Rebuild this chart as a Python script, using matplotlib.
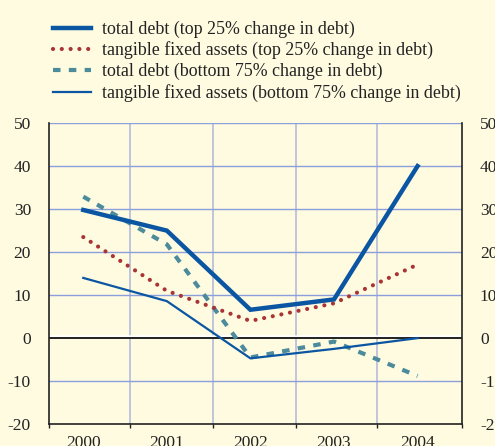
import matplotlib
matplotlib.use("Agg")
import matplotlib.pyplot as plt
import matplotlib.transforms as mtransforms

years = ["2000", "2001", "2002", "2003", "2004"]
debt_top = [29.8, 25.0, 6.6, 9.0, 40.0]
tangible_top = [23.5, 11.0, 4.0, 8.1, 17.1]
debt_bottom = [32.9, 21.8, -4.5, -0.8, -8.8]
tangible_bottom = [14.0, 8.6, -4.7, -2.5, 0.0]
labels = [
    "total debt (top 25% change in debt)",
    "tangible fixed assets (top 25% change in debt)",
    "total debt (bottom 75% change in debt)",
    "tangible fixed assets (bottom 75% change in debt)",
]

bg = "#fffbe1"
plt.rcParams["font.family"] = ["Liberation Serif", "DejaVu Serif"]
plt.rcParams["axes.unicode_minus"] = False

fig = plt.figure(figsize=(4.95, 4.46), dpi=100, facecolor=bg)
ax = fig.add_axes([0.099, 0.049, 0.834, 0.675], facecolor=bg)

x = list(range(len(years)))
bounds = [-0.41, 0.56, 1.55, 2.55, 3.52, 4.53]

# grid
for b in bounds[1:-1]:
    ax.axvline(b, color="#b4bcdc", lw=1.2, zorder=1)
for v in range(-10, 51, 10):
    if v != 0:
        ax.axhline(v, color="#8a9fdc", lw=1.0, zorder=1)

# zero line with white highlight above
off = mtransforms.offset_copy(ax.transData, fig=fig, x=0, y=1.5, units="points")
ax.plot([bounds[0], bounds[-1]], [0, 0], color="white", lw=1.8, transform=off, zorder=2)
ax.axhline(0, color="#222222", lw=1.4, zorder=2)

l1, = ax.plot(x, debt_top, color="#0b56a2", lw=3.2, solid_joinstyle="miter", zorder=5)
l2, = ax.plot(x, tangible_top, color="#a93434", lw=3.0, linestyle=(0, (0.01, 2.1)),
              dash_capstyle="round", zorder=4)
l3, = ax.plot(x, debt_bottom, color="#4b8b9c", lw=3.0, linestyle=(0, (1.8, 2.0)), zorder=3)
l4, = ax.plot(x, tangible_bottom, color="#0b56a2", lw=1.6, zorder=4)

ax.set_xlim(bounds[0], bounds[-1])
ax.set_ylim(-20, 50)
ax.set_xticks(x)
ax.set_xticklabels(years)
ax.set_xticks(bounds, minor=True)
ax.tick_params(axis="x", which="major", length=0, pad=8, labelsize=12.5, colors="#222222")
ax.tick_params(axis="x", which="minor", length=3, width=1, direction="out", color="#222222")
ax.set_yticks(range(-20, 51, 10))
ax.tick_params(axis="y", length=0, pad=13, labelsize=12.5, labelright=True, colors="#222222")

for s in ["left", "right", "bottom"]:
    ax.spines[s].set_color("#222222")
    ax.spines[s].set_linewidth(1.2)
ax.spines["top"].set_visible(False)

leg = fig.legend([l1, l2, l3, l4], labels, loc="upper left",
                 bbox_to_anchor=(0.075, 0.99), frameon=False, fontsize=12.9,
                 handlelength=2.1, handletextpad=0.6, labelspacing=0.2)
for t in leg.get_texts():
    t.set_color("#222222")

fig.savefig("out.png", dpi=100, facecolor=bg)
